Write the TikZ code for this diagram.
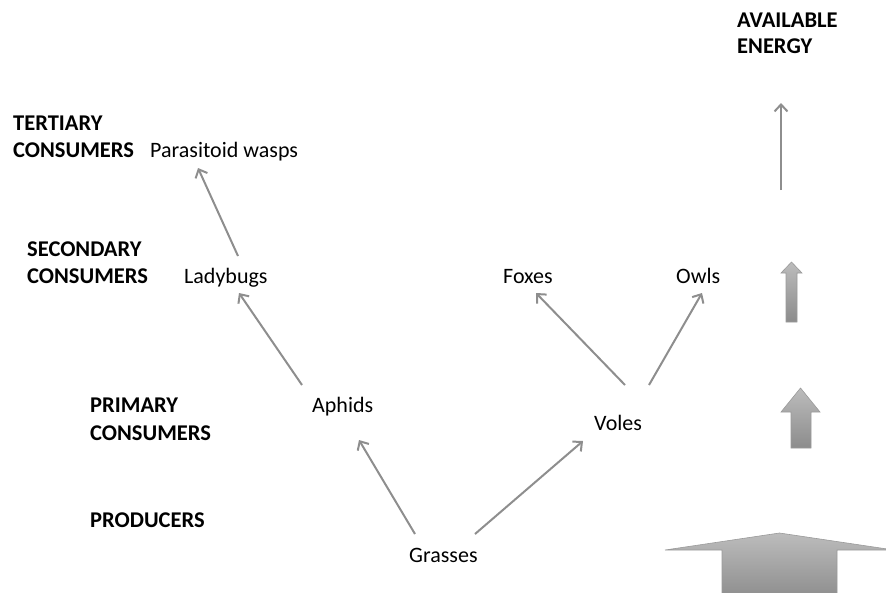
\documentclass[tikz,border=0pt]{standalone}
\usepackage{fontspec}
\setmainfont{Carlito}
\usetikzlibrary{arrows.meta}
\definecolor{conn}{HTML}{8E8E8E}
\definecolor{blktop}{HTML}{BCBCBC}
\definecolor{blkbot}{HTML}{8C8C8C}
\definecolor{blkline}{HTML}{9A9A9A}
\begin{document}
\begin{tikzpicture}[x={(1pt,0)},y={(0,-1pt)},
  lev/.style={font=\fontsize{22.5}{27}\selectfont\bfseries, inner sep=0pt, anchor=base west},
  org/.style={font=\fontsize{22}{27}\selectfont, inner sep=0pt, anchor=base west},
  link/.style={draw=conn, line width=2pt, -{Straight Barb[length=7pt,width=13pt,line width=2pt]}},
  blk/.style={top color=blktop, bottom color=blkbot, draw=blkline, line width=0.6pt}]
\useasboundingbox (0,0) rectangle (886,592);
% level labels
\node[lev] (l1a) at (13,130) {TERTIARY};
\node[lev] (l1b) at (13,157) {CONSUMERS};
\node[lev] (l2a) at (27,256) {SECONDARY};
\node[lev] (l2b) at (27,283) {CONSUMERS};
\node[lev] (l3a) at (90,412) {PRIMARY};
\node[lev] (l3b) at (90,440) {CONSUMERS};
\node[lev] (l4) at (90,527) {PRODUCERS};
\node[lev] (ea) at (737,27) {AVAILABLE};
\node[lev] (eb) at (737,53) {ENERGY};
% organisms
\node[org] (wasp) at (150,157) {Parasitoid wasps};
\node[org] (lady) at (184,283) {Ladybugs};
\node[org] (aph) at (312,412) {Aphids};
\node[org] (gra) at (409,562) {Grasses};
\node[org] (vol) at (594,430) {Voles};
\node[org] (fox) at (503,283) {Foxes};
\node[org] (owl) at (676,283) {Owls};
% connectors
\draw[link] ([shift={(54,-27)}]lady.base west) -- ([shift={(48,11)}]wasp.base west);
\draw[link] ([shift={(-10,-27)}]aph.base west) -- ([shift={(55,10)}]lady.base west);
\draw[link] ([shift={(6,-28)}]gra.base west) -- ([shift={(47,28)}]aph.base west);
\draw[link] ([shift={(66,-28)}]gra.base west) -- ([shift={(-11,11)}]vol.base west);
\draw[link] ([shift={(31,-45)}]vol.base west) -- ([shift={(33,10)}]fox.base west);
\draw[link] ([shift={(55,-45)}]vol.base west) -- ([shift={(26,10)}]owl.base west);
% available energy arrows
\coordinate (e0) at (781,190);
\coordinate (e1) at (781,103);
\draw[link] (e0) -- (e1);
\shade[blk] (786,322) -- (786,273) -- (781,273) -- (791.5,262) -- (802,273) -- (797,273) -- (797,322) -- cycle;
\shade[blk] (791,448) -- (791,412) -- (781,412) -- (800.5,388) -- (820,412) -- (811,412) -- (811,448) -- cycle;
\begin{scope}
\clip (0,0) rectangle (886,592);
\shade[blk] (722,600) -- (722,550) -- (665,550) -- (779.5,533) -- (894,550) -- (837,550) -- (837,600) -- cycle;
\end{scope}
\end{tikzpicture}
\end{document}
